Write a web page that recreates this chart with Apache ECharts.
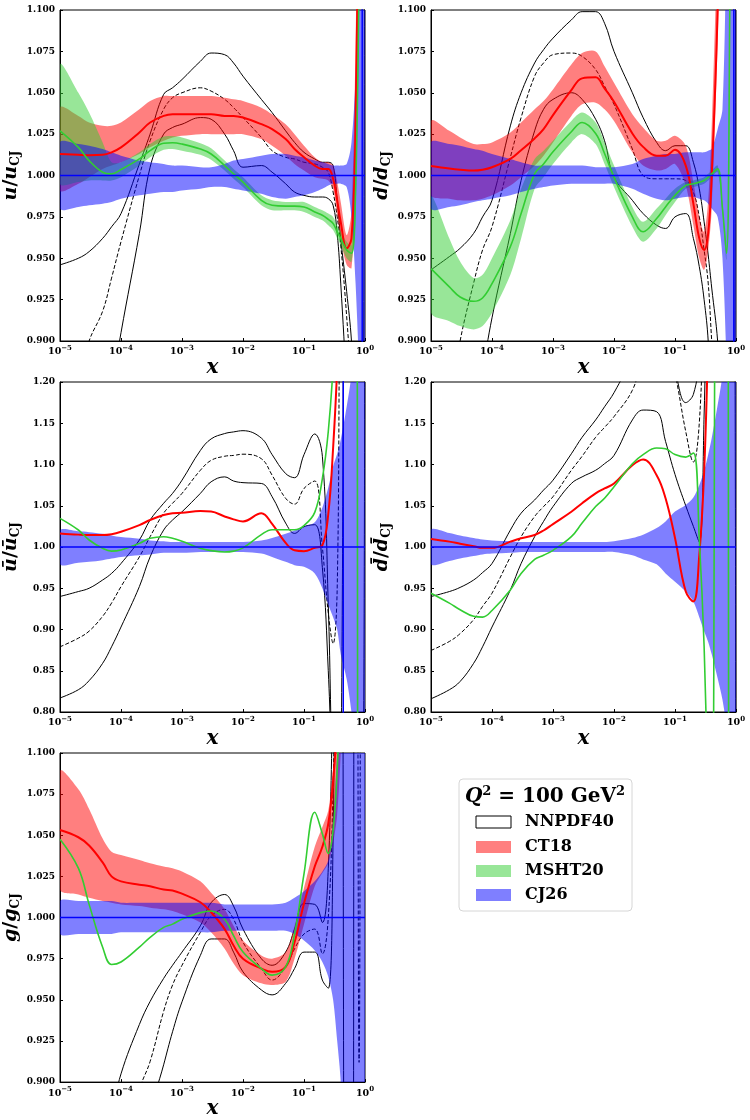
<!DOCTYPE html>
<html>
<head>
<meta charset="utf-8">
<script src="https://cdn.jsdelivr.net/npm/echarts@6/dist/echarts.min.js"></script>
<style>
html, body { margin: 0; padding: 0; background: #fff; }
#chart { width: 750px; height: 1120px; }
</style>
</head>
<body>
<div id="chart"></div>
<script>
// shared x grid (momentum fraction)
var X = [1e-5, 2e-5, 3e-5, 5e-5, 7e-5, 1e-4, 2e-4, 3e-4, 5e-4, 7e-4, 1e-3, 2e-3, 3e-3, 5e-3, 7e-3,
         1e-2, 2e-2, 3e-2, 5e-2, 7e-2, 0.1, 0.15, 0.2, 0.25, 0.3, 0.35, 0.4, 0.5, 0.6, 0.7, 0.8, 0.9, 1.0];

// ---- u / u_CJ
var u_nn_hi  = [0.946, 0.950, 0.954, 0.962, 0.969, 0.977, 1.007, 1.025, 1.049, 1.053, 1.058, 1.069, 1.074, 1.073, 1.068, 1.060, 1.046, 1.038, 1.027, 1.020, 1.014, 1.010, 1.008, 1.008, 1.006, 0.985, 0.962, 0.930, 0.900, 0.850, 0.800, 0.750, 1.500];
var u_nn_mid = [0.840, 0.875, 0.900, 0.918, 0.938, 0.960, 1.000, 1.021, 1.040, 1.047, 1.050, 1.053, 1.051, 1.046, 1.041, 1.035, 1.023, 1.015, 1.011, 1.010, 1.008, 1.007, 1.005, 1.002, 0.990, 0.975, 0.958, 0.915, 0.870, 0.800, 0.750, 0.700, 0.650];
var u_nn_lo  = [0.700, 0.740, 0.780, 0.830, 0.870, 0.905, 0.965, 1.005, 1.025, 1.029, 1.031, 1.035, 1.034, 1.025, 1.015, 1.005, 1.006, 1.002, 0.995, 0.990, 0.988, 0.987, 0.987, 0.986, 0.982, 0.965, 0.935, 0.870, 0.800, 0.750, 0.700, 0.650, 0.600];
var u_ct_mid = [1.013, 1.0125, 1.0123, 1.0125, 1.014, 1.017, 1.026, 1.032, 1.036, 1.037, 1.037, 1.037, 1.037, 1.036, 1.036, 1.035, 1.031, 1.028, 1.022, 1.016, 1.011, 1.006, 1.004, 1.004, 0.998, 0.985, 0.972, 0.956, 0.962, 1.030, 1.200, 1.350, 1.500];
var u_ct_lo  = [0.991, 0.995, 0.999, 1.004, 1.006, 1.008, 1.013, 1.017, 1.021, 1.023, 1.024, 1.025, 1.025, 1.025, 1.025, 1.025, 1.022, 1.018, 1.012, 1.007, 1.003, 0.999, 0.998, 0.997, 0.992, 0.976, 0.962, 0.946, 0.944, 0.990, 1.150, 1.300, 1.400];
var u_ct_hi  = [1.041, 1.036, 1.032, 1.030, 1.030, 1.032, 1.040, 1.045, 1.048, 1.048, 1.048, 1.048, 1.048, 1.047, 1.046, 1.045, 1.041, 1.037, 1.031, 1.025, 1.018, 1.011, 1.008, 1.008, 1.006, 0.996, 0.984, 0.964, 0.978, 1.080, 1.250, 1.400, 1.600];
var u_ms_mid = [1.027, 1.017, 1.009, 1.002, 1.001, 1.0036, 1.010, 1.015, 1.0195, 1.0198, 1.019, 1.016, 1.013, 1.006, 1.001, 0.996, 0.985, 0.982, 0.9815, 0.9815, 0.981, 0.978, 0.976, 0.9735, 0.971, 0.966, 0.962, 0.955, 0.953, 0.990, 1.120, 1.300, 1.450];
var u_ms_lo  = [0.995, 0.996, 0.997, 0.997, 0.997, 0.999, 1.006, 1.011, 1.0155, 1.016, 1.015, 1.0125, 1.0095, 1.003, 0.998, 0.993, 0.982, 0.979, 0.979, 0.979, 0.978, 0.975, 0.973, 0.970, 0.967, 0.962, 0.958, 0.950, 0.948, 0.975, 1.100, 1.280, 1.430];
var u_ms_hi  = [1.067, 1.050, 1.038, 1.020, 1.008, 1.008, 1.014, 1.019, 1.0235, 1.0238, 1.023, 1.0195, 1.0165, 1.009, 1.004, 0.999, 0.988, 0.985, 0.984, 0.984, 0.984, 0.981, 0.979, 0.977, 0.975, 0.970, 0.966, 0.960, 0.958, 1.005, 1.140, 1.320, 1.470];
var u_cj_lo  = [0.980, 0.981, 0.982, 0.983, 0.984, 0.986, 0.988, 0.989, 0.990, 0.990, 0.991, 0.992, 0.993, 0.993, 0.992, 0.991, 0.989, 0.987, 0.986, 0.987, 0.988, 0.990, 0.992, 0.994, 0.995, 0.995, 0.995, 0.993, 0.975, 0.935, 0.880, 0.780, 0.650];
var u_cj_hi  = [1.020, 1.019, 1.018, 1.016, 1.014, 1.012, 1.009, 1.008, 1.007, 1.006, 1.006, 1.005, 1.005, 1.007, 1.009, 1.010, 1.012, 1.013, 1.013, 1.012, 1.011, 1.009, 1.008, 1.007, 1.006, 1.006, 1.006, 1.007, 1.020, 1.060, 1.140, 1.250, 1.400];

// ---- d / d_CJ
var d_nn_hi  = [0.943, 0.951, 0.956, 0.965, 0.975, 0.985, 1.030, 1.050, 1.068, 1.076, 1.083, 1.094, 1.099, 1.099, 1.092, 1.075, 1.050, 1.035, 1.020, 1.015, 1.018, 1.018, 1.008, 0.992, 0.972, 0.952, 0.932, 0.900, 0.850, 0.800, 0.750, 0.700, 1.500];
var d_nn_mid = [0.800, 0.860, 0.900, 0.935, 0.955, 0.969, 1.011, 1.035, 1.060, 1.068, 1.073, 1.074, 1.072, 1.064, 1.054, 1.043, 1.016, 1.000, 0.998, 0.998, 0.998, 0.997, 0.990, 0.975, 0.955, 0.935, 0.900, 0.850, 0.800, 0.750, 0.700, 0.650, 0.600];
var d_nn_lo  = [0.700, 0.750, 0.790, 0.840, 0.880, 0.914, 0.965, 0.997, 1.027, 1.040, 1.046, 1.050, 1.046, 1.034, 1.021, 0.999, 0.985, 0.977, 0.970, 0.968, 0.975, 0.977, 0.962, 0.945, 0.925, 0.900, 0.850, 0.800, 0.750, 0.700, 0.650, 0.600, 0.550];
var d_ct_mid = [1.0058, 1.0042, 1.0035, 1.003, 1.0035, 1.005, 1.010, 1.0153, 1.0224, 1.028, 1.0365, 1.0516, 1.0587, 1.0593, 1.0526, 1.0446, 1.0254, 1.0173, 1.012, 1.012, 1.0155, 1.006, 0.983, 0.962, 0.955, 0.965, 1.000, 1.100, 1.250, 1.400, 1.500, 1.600, 1.700];
var d_ct_lo  = [0.988, 0.986, 0.985, 0.985, 0.986, 0.988, 0.994, 0.999, 1.006, 1.012, 1.020, 1.036, 1.043, 1.044, 1.040, 1.033, 1.014, 1.006, 1.003, 1.004, 1.007, 0.994, 0.970, 0.950, 0.943, 0.955, 0.980, 1.080, 1.200, 1.350, 1.450, 1.550, 1.650];
var d_ct_hi  = [1.033, 1.027, 1.023, 1.019, 1.019, 1.020, 1.026, 1.032, 1.040, 1.045, 1.052, 1.067, 1.074, 1.075, 1.066, 1.056, 1.037, 1.029, 1.021, 1.021, 1.024, 1.018, 0.996, 0.975, 0.966, 0.985, 1.030, 1.150, 1.300, 1.450, 1.550, 1.650, 1.750];
var d_ms_mid = [0.9437, 0.9327, 0.9266, 0.924, 0.926, 0.9347, 0.957, 0.977, 1.001, 1.007, 1.0143, 1.0264, 1.032, 1.0254, 1.0133, 0.999, 0.975, 0.966, 0.974, 0.981, 0.988, 0.994, 0.995, 0.996, 0.997, 0.999, 1.001, 1.004, 0.980, 0.953, 1.120, 1.300, 1.450];
var d_ms_lo  = [0.917, 0.912, 0.909, 0.907, 0.909, 0.917, 0.940, 0.962, 0.992, 0.999, 1.007, 1.020, 1.025, 1.019, 1.007, 0.993, 0.969, 0.960, 0.968, 0.976, 0.984, 0.992, 0.993, 0.994, 0.995, 0.997, 0.999, 1.002, 0.978, 0.950, 1.110, 1.290, 1.440];
var d_ms_hi  = [0.987, 0.962, 0.948, 0.938, 0.940, 0.950, 0.973, 0.992, 1.010, 1.015, 1.021, 1.033, 1.038, 1.032, 1.020, 1.006, 0.981, 0.972, 0.980, 0.986, 0.992, 0.996, 0.997, 0.998, 0.999, 1.001, 1.003, 1.006, 0.983, 0.956, 1.130, 1.310, 1.460];
var d_cj_lo  = [0.980, 0.981, 0.982, 0.984, 0.985, 0.986, 0.988, 0.990, 0.992, 0.993, 0.994, 0.995, 0.995, 0.995, 0.995, 0.995, 0.992, 0.989, 0.986, 0.985, 0.986, 0.987, 0.987, 0.986, 0.985, 0.983, 0.980, 0.975, 0.950, 0.880, 0.700, 0.600, 0.500];
var d_cj_hi  = [1.020, 1.019, 1.018, 1.016, 1.015, 1.013, 1.010, 1.008, 1.006, 1.006, 1.006, 1.006, 1.006, 1.005, 1.005, 1.005, 1.007, 1.010, 1.012, 1.013, 1.013, 1.014, 1.014, 1.014, 1.014, 1.015, 1.016, 1.028, 1.040, 1.150, 1.300, 1.400, 1.500];

// ---- ubar / ubar_CJ
var ub_nn_hi  = [0.940, 0.946, 0.950, 0.960, 0.968, 0.980, 1.0085, 1.0327, 1.053, 1.065, 1.081, 1.117, 1.131, 1.1375, 1.1395, 1.141, 1.132, 1.112, 1.089, 1.084, 1.112, 1.137, 1.110, 0.930, 0.700, 0.650, 0.650, 0.650, 0.650, 0.650, 0.650, 0.650, 1.500];
var ub_nn_mid = [0.879, 0.8895, 0.898, 0.916, 0.932, 0.952, 0.988, 1.0125, 1.041, 1.053, 1.065, 1.093, 1.105, 1.110, 1.111, 1.1125, 1.107, 1.087, 1.059, 1.052, 1.071, 1.080, 1.000, 0.920, 0.883, 0.950, 1.350, 1.500, 1.500, 1.500, 1.500, 1.500, 1.500];
var ub_nn_lo  = [0.817, 0.827, 0.838, 0.859, 0.879, 0.903, 0.952, 0.988, 1.0205, 1.0327, 1.0427, 1.065, 1.079, 1.085, 1.080, 1.078, 1.077, 1.061, 1.029, 1.0165, 1.0246, 1.027, 0.975, 0.850, 0.700, 0.650, 0.700, 1.600, 1.600, 1.600, 1.600, 1.600, 1.600];
var ub_ct_mid = [1.0165, 1.015, 1.0145, 1.0145, 1.0155, 1.0185, 1.0266, 1.0327, 1.0387, 1.041, 1.0415, 1.0435, 1.043, 1.037, 1.0335, 1.031, 1.041, 1.028, 1.005, 0.996, 0.995, 0.999, 1.002, 1.040, 1.120, 1.220, 1.400, 1.500, 1.500, 1.500, 1.500, 1.500, 1.500];
var ub_ms_mid = [1.0347, 1.0206, 1.0085, 0.9984, 0.995, 0.9964, 1.0044, 1.0105, 1.0125, 1.0105, 1.0069, 0.9984, 0.9956, 0.994, 0.995, 0.999, 1.015, 1.021, 1.021, 1.021, 1.026, 1.042, 1.083, 1.140, 1.220, 1.350, 1.450, 1.550, 1.600, 1.600, 0.400, 0.400, 0.400];
var ub_cj_lo  = [0.979, 0.981, 0.982, 0.984, 0.986, 0.988, 0.990, 0.991, 0.993, 0.993, 0.993, 0.994, 0.994, 0.994, 0.994, 0.994, 0.992, 0.988, 0.982, 0.978, 0.976, 0.968, 0.950, 0.930, 0.915, 0.900, 0.870, 0.840, 0.800, 0.750, 0.650, 0.550, 0.450];
var ub_cj_hi  = [1.020, 1.019, 1.018, 1.016, 1.014, 1.012, 1.010, 1.008, 1.007, 1.006, 1.006, 1.006, 1.006, 1.006, 1.006, 1.006, 1.008, 1.011, 1.016, 1.020, 1.025, 1.030, 1.048, 1.072, 1.098, 1.113, 1.130, 1.170, 1.210, 1.300, 1.400, 1.500, 1.600];

// ---- dbar / dbar_CJ
var db_nn_hi  = [0.940, 0.946, 0.951, 0.960, 0.969, 0.980, 1.0205, 1.041, 1.057, 1.069, 1.081, 1.113, 1.133, 1.154, 1.170, 1.187, 1.230, 1.260, 1.280, 1.260, 1.215, 1.175, 1.185, 1.230, 1.350, 1.400, 1.400, 1.400, 1.400, 1.400, 1.400, 1.400, 1.400];
var db_nn_mid = [0.8746, 0.8855, 0.895, 0.912, 0.928, 0.944, 0.988, 1.0125, 1.037, 1.049, 1.061, 1.093, 1.110, 1.133, 1.145, 1.158, 1.190, 1.230, 1.260, 1.250, 1.210, 1.140, 1.103, 1.150, 1.300, 1.400, 1.400, 1.400, 1.400, 1.400, 1.400, 1.400, 1.400];
var db_nn_lo  = [0.816, 0.827, 0.837, 0.859, 0.879, 0.903, 0.948, 0.980, 1.0125, 1.031, 1.049, 1.077, 1.085, 1.093, 1.101, 1.111, 1.154, 1.166, 1.164, 1.128, 1.088, 1.050, 1.025, 1.006, 1.160, 1.400, 1.500, 1.500, 1.500, 1.500, 1.500, 1.500, 0.500];
var db_ct_mid = [1.0097, 1.0065, 1.004, 1.001, 0.999, 0.999, 1.0065, 1.0105, 1.0145, 1.020, 1.0278, 1.0427, 1.053, 1.065, 1.071, 1.077, 1.099, 1.106, 1.087, 1.059, 1.011, 0.946, 0.934, 0.990, 1.090, 1.250, 1.400, 1.500, 1.500, 1.500, 1.500, 1.500, 1.500];
var db_ms_mid = [0.944, 0.932, 0.924, 0.916, 0.915, 0.923, 0.948, 0.968, 0.985, 0.990, 0.996, 1.0125, 1.029, 1.049, 1.059, 1.073, 1.101, 1.112, 1.120, 1.119, 1.112, 1.109, 1.114, 1.010, 0.880, 0.700, 0.600, 1.600, 1.600, 1.600, 0.400, 0.400, 0.400];
var db_cj_lo  = [0.979, 0.983, 0.986, 0.989, 0.991, 0.992, 0.993, 0.994, 0.994, 0.994, 0.994, 0.994, 0.994, 0.994, 0.994, 0.994, 0.990, 0.985, 0.979, 0.968, 0.958, 0.946, 0.934, 0.915, 0.898, 0.885, 0.870, 0.841, 0.815, 0.780, 0.700, 0.600, 0.500];
var db_cj_hi  = [1.021, 1.017, 1.014, 1.011, 1.009, 1.008, 1.007, 1.006, 1.006, 1.006, 1.006, 1.006, 1.006, 1.006, 1.006, 1.007, 1.011, 1.015, 1.023, 1.031, 1.043, 1.051, 1.060, 1.075, 1.092, 1.112, 1.132, 1.172, 1.210, 1.300, 1.400, 1.500, 1.600];

// ---- g / g_CJ
var g_nn_hi  = [0.780, 0.810, 0.840, 0.860, 0.880, 0.905, 0.935, 0.949, 0.963, 0.971, 0.979, 0.995, 1.009, 1.014, 1.007, 0.993, 0.975, 0.971, 0.979, 0.993, 1.0085, 1.008, 0.997, 1.030, 1.150, 1.300, 1.400, 0.600, 0.600, 1.400, 1.400, 1.400, 1.400];
var g_nn_mid = [0.700, 0.730, 0.760, 0.790, 0.810, 0.840, 0.895, 0.9125, 0.943, 0.959, 0.971, 0.991, 1.001, 1.005, 0.999, 0.985, 0.969, 0.962, 0.970, 0.981, 0.990, 0.993, 0.978, 1.000, 1.080, 1.200, 1.300, 1.300, 1.300, 1.300, 0.912, 1.300, 1.300];
var g_nn_lo  = [0.600, 0.630, 0.660, 0.700, 0.730, 0.760, 0.830, 0.880, 0.9105, 0.9306, 0.9488, 0.977, 0.987, 0.987, 0.979, 0.967, 0.956, 0.953, 0.960, 0.969, 0.979, 0.979, 0.962, 0.957, 1.050, 1.300, 1.400, 1.400, 1.400, 1.400, 1.400, 1.400, 1.400];
var g_ct_mid = [1.0532, 1.0488, 1.0438, 1.0335, 1.025, 1.022, 1.020, 1.019, 1.017, 1.0165, 1.0145, 1.0093, 1.0032, 0.993, 0.983, 0.975, 0.969, 0.967, 0.970, 0.985, 1.0085, 1.031, 1.043, 1.057, 1.083, 1.120, 1.200, 1.300, 1.300, 1.300, 1.300, 1.300, 1.300];
var g_ct_lo  = [1.017, 1.014, 1.012, 1.010, 1.009, 1.008, 1.007, 1.006, 1.005, 1.004, 1.002, 0.997, 0.991, 0.981, 0.972, 0.965, 0.960, 0.959, 0.961, 0.975, 0.996, 1.019, 1.027, 1.033, 1.045, 1.063, 1.100, 1.200, 1.200, 1.200, 1.200, 1.200, 1.200];
var g_ct_hi  = [1.089, 1.078, 1.066, 1.048, 1.040, 1.038, 1.035, 1.033, 1.031, 1.030, 1.028, 1.022, 1.015, 1.005, 0.995, 0.986, 0.977, 0.975, 0.979, 0.995, 1.018, 1.043, 1.055, 1.065, 1.090, 1.120, 1.200, 1.300, 1.300, 1.300, 1.300, 1.300, 1.300];
var g_ms_mid = [1.0476, 1.030, 1.008, 0.982, 0.9715, 0.973, 0.982, 0.988, 0.994, 0.996, 0.999, 1.003, 1.004, 0.999, 0.989, 0.979, 0.969, 0.965, 0.970, 0.990, 1.0266, 1.064, 1.051, 1.039, 1.053, 1.090, 1.150, 1.300, 1.300, 1.300, 1.300, 1.300, 1.300];
var g_cj_lo  = [0.990, 0.990, 0.990, 0.990, 0.990, 0.991, 0.991, 0.991, 0.991, 0.991, 0.991, 0.991, 0.991, 0.992, 0.992, 0.992, 0.992, 0.992, 0.992, 0.990, 0.986, 0.980, 0.973, 0.964, 0.950, 0.925, 0.900, 0.800, 0.700, 0.600, 0.500, 0.500, 0.500];
var g_cj_hi  = [1.010, 1.010, 1.010, 1.010, 1.010, 1.009, 1.009, 1.009, 1.009, 1.009, 1.009, 1.009, 1.009, 1.008, 1.008, 1.008, 1.008, 1.008, 1.009, 1.012, 1.016, 1.022, 1.028, 1.035, 1.060, 1.100, 1.150, 1.200, 1.300, 1.400, 1.500, 1.500, 1.500];

// CJ26 reference line and the spikes where it blows up
var cj_line_x = [1e-5, 1];
var cj_line_y = [1, 1];
var cj_spike_x = [0.9, 0.92, 0.44, null, null];

var SERIF = 'DejaVu Serif';
var RED_BAND = 'rgba(255,0,0,0.5)', GREEN_BAND = 'rgba(50,205,50,0.5)', BLUE_BAND = 'rgba(0,0,255,0.5)';

var chart = echarts.init(document.getElementById('chart'));

var grids = [
    {left: 60, top: 10, width: 305, height: 331},
    {left: 431, top: 10, width: 305, height: 331},
    {left: 60, top: 382, width: 305, height: 330},
    {left: 431, top: 382, width: 305, height: 330},
    {left: 60, top: 753, width: 305, height: 331}
];
var yr = [[0.9, 1.1, 0.025, 3], [0.9, 1.1, 0.025, 3], [0.8, 1.2, 0.05, 2], [0.8, 1.2, 0.05, 2], [0.9, 1.1, 0.025, 3]];
var ynames = ['{i|u}{n|/}{i|u}{s|CJ}', '{i|d}{n|/}{i|d}{s|CJ}', '{i|\u016b}{n|/}{i|\u016b}{s|CJ}',
              '{i|d\u0304}{n|/}{i|d\u0304}{s|CJ}', '{i|g}{n|/}{i|g}{s|CJ}'];

function pairs(ys) {
    return X.map(function (x, i) { return [x, ys[i]]; });
}

function nnLine(k, ys, dashed) {
    return {
        type: 'line', name: 'NNPDF40', xAxisIndex: k, yAxisIndex: k, data: pairs(ys),
        showSymbol: false, smooth: 0.4, z: 2, silent: true,
        lineStyle: {color: '#000', width: 1, type: dashed ? [4, 2] : 'solid'}
    };
}

// filled band between lo and hi, drawn as one polygon through the axis scales
function band(k, lo, hi, color) {
    var rows = X.map(function (x, i) { return [x, lo[i], hi[i]]; });
    return {
        type: 'custom', xAxisIndex: k, yAxisIndex: k, data: rows, encode: {x: 0, y: [1, 2]},
        clip: true, silent: true, z: 3,
        renderItem: function (params, api) {
            if (params.dataIndex !== 0) return null;
            var top = rows.map(function (r) { return api.coord([r[0], r[2]]); });
            var bot = rows.map(function (r) { return api.coord([r[0], r[1]]); }).reverse();
            var cs = params.coordSys;
            return {
                type: 'polygon', shape: {points: top.concat(bot), smooth: 0.3},
                style: {fill: color},
                clipPath: {type: 'rect', shape: {x: cs.x, y: cs.y, width: cs.width, height: cs.height}}
            };
        }
    };
}

function curve(k, ys, color, w) {
    return {type: 'line', xAxisIndex: k, yAxisIndex: k, data: pairs(ys), showSymbol: false,
            smooth: 0.4, z: 4, silent: true, lineStyle: {color: color, width: w}};
}

function cjLine(k) {
    var d = cj_line_x.map(function (x, i) { return [x, cj_line_y[i]]; });
    if (cj_spike_x[k] != null) {
        d.push([cj_spike_x[k], null], [cj_spike_x[k], 0.5], [cj_spike_x[k], 1.5]);
    }
    return {type: 'line', xAxisIndex: k, yAxisIndex: k, data: d, showSymbol: false, z: 4,
            silent: true, connectNulls: false, lineStyle: {color: '#0000ff', width: 1.5}};
}

var series = [];
function panel(k, nn, ct, ms, cj) {
    series.push(nnLine(k, nn[0], false), nnLine(k, nn[1], true), nnLine(k, nn[2], false));
    if (ct.length > 1) series.push(band(k, ct[1], ct[2], RED_BAND));
    if (ms.length > 1) series.push(band(k, ms[1], ms[2], GREEN_BAND));
    series.push(band(k, cj[0], cj[1], BLUE_BAND));
    series.push(curve(k, ct[0], '#ff0000', 2), curve(k, ms[0], '#32cd32', 1.6), cjLine(k));
}
panel(0, [u_nn_hi, u_nn_mid, u_nn_lo], [u_ct_mid, u_ct_lo, u_ct_hi], [u_ms_mid, u_ms_lo, u_ms_hi], [u_cj_lo, u_cj_hi]);
panel(1, [d_nn_hi, d_nn_mid, d_nn_lo], [d_ct_mid, d_ct_lo, d_ct_hi], [d_ms_mid, d_ms_lo, d_ms_hi], [d_cj_lo, d_cj_hi]);
panel(2, [ub_nn_hi, ub_nn_mid, ub_nn_lo], [ub_ct_mid], [ub_ms_mid], [ub_cj_lo, ub_cj_hi]);
panel(3, [db_nn_hi, db_nn_mid, db_nn_lo], [db_ct_mid], [db_ms_mid], [db_cj_lo, db_cj_hi]);
panel(4, [g_nn_hi, g_nn_mid, g_nn_lo], [g_ct_mid, g_ct_lo, g_ct_hi], [g_ms_mid], [g_cj_lo, g_cj_hi]);

var tick = {show: true, inside: true, length: 3, lineStyle: {color: '#000', width: 1}};

var xAxes = grids.map(function (g, k) {
    return {
        type: 'log', logBase: 10, gridIndex: k, min: 1e-5, max: 1,
        name: 'x', nameLocation: 'middle', nameGap: 12,
        nameTextStyle: {fontFamily: SERIF, fontStyle: 'italic', fontWeight: 'bold', fontSize: 20, color: '#000'},
        axisLine: {show: true, lineStyle: {color: '#000', width: 1}},
        axisTick: tick, splitLine: {show: false},
        axisLabel: {
            margin: 4, color: '#000',
            formatter: function (v) {
                var e = Math.round(Math.log10(v));
                return '{b|10}{e|' + (e < 0 ? '\u2212' + (-e) : e) + '}';
            },
            rich: {
                b: {fontFamily: SERIF, fontWeight: 'bold', fontSize: 9.5, color: '#000'},
                e: {fontFamily: SERIF, fontWeight: 'bold', fontSize: 7, color: '#000', padding: [0, 0, 7, 0]}
            }
        }
    };
});

var yAxes = grids.map(function (g, k) {
    var r = yr[k];
    return {
        type: 'value', gridIndex: k, min: r[0], max: r[1], interval: r[2],
        name: ynames[k], nameLocation: 'middle', nameRotate: 90, nameGap: 38,
        nameTextStyle: {
            rich: {
                i: {fontFamily: SERIF, fontStyle: 'italic', fontWeight: 'bold', fontSize: 19, color: '#000'},
                n: {fontFamily: SERIF, fontWeight: 'bold', fontSize: 19, color: '#000'},
                s: {fontFamily: SERIF, fontWeight: 'bold', fontSize: 12, color: '#000', padding: [9, 0, 0, 0]}
            }
        },
        axisLine: {show: true, lineStyle: {color: '#000', width: 1}},
        axisTick: tick, splitLine: {show: false},
        axisLabel: {
            margin: 5, color: '#000', fontFamily: SERIF, fontWeight: 'bold', fontSize: 9,
            formatter: function (v) { return v.toFixed(r[3]); }
        }
    };
});

var gridOpts = grids.map(function (g) {
    return {left: g.left, top: g.top, width: g.width, height: g.height,
            show: true, borderColor: '#000', borderWidth: 1, backgroundColor: 'transparent'};
});

// legend box drawn as graphics
var legendItems = [
    {name: 'NNPDF40', fill: '#fff', stroke: '#000'},
    {name: 'CT18', fill: RED_BAND, stroke: null},
    {name: 'MSHT20', fill: GREEN_BAND, stroke: null},
    {name: 'CJ26', fill: BLUE_BAND, stroke: null}
];
var legendRows = [822, 847, 871, 895];
var graphic = [
    {type: 'rect', shape: {x: 459, y: 779, width: 173, height: 132, r: 4},
     style: {fill: '#fff', stroke: '#d6d6d6', lineWidth: 1}, z: 10},
    {type: 'text', x: 545, y: 797, z: 11,
     style: {text: '{q|Q}{p|2}{t| = 100 GeV}{p|2}', align: 'center', verticalAlign: 'middle',
             rich: {
                 q: {fontFamily: SERIF, fontStyle: 'italic', fontWeight: 'bold', fontSize: 20, fill: '#000'},
                 t: {fontFamily: SERIF, fontWeight: 'bold', fontSize: 20, fill: '#000'},
                 p: {fontFamily: SERIF, fontWeight: 'bold', fontSize: 13, fill: '#000', padding: [0, 0, 10, 0]}
             }}}
];
legendItems.forEach(function (it, i) {
    var y = legendRows[i];
    graphic.push({type: 'rect', z: 11, shape: {x: 476, y: y - 6, width: 35, height: 12},
                  style: {fill: it.fill, stroke: it.stroke, lineWidth: 1}});
    graphic.push({type: 'text', z: 11, x: 525, y: y,
                  style: {text: it.name, fontFamily: SERIF, fontWeight: 'bold', fontSize: 16, fill: '#000',
                          align: 'left', verticalAlign: 'middle'}});
});

chart.setOption({
    animation: false,
    backgroundColor: '#fff',
    grid: gridOpts,
    xAxis: xAxes,
    yAxis: yAxes,
    series: series,
    graphic: graphic
});
</script>
</body>
</html>
